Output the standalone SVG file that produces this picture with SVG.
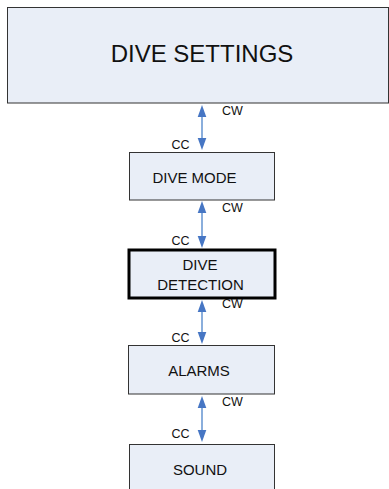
<svg xmlns="http://www.w3.org/2000/svg" width="389" height="489" viewBox="0 0 389 489">
<style>
.box{fill:#E9EEF7;stroke:#333;stroke-width:1}
.bold{fill:#E9EEF7;stroke:#000;stroke-width:3}
.t{font-family:"Liberation Sans",Arial,sans-serif;font-size:15px;fill:#111;text-anchor:middle}
.big{font-size:24px}
.l{font-family:"Liberation Sans",Arial,sans-serif;font-size:12.5px;fill:#111}
.c{stroke:#8AAEDC;stroke-width:2;fill:none}
.h{fill:#4676C4}
</style>
<rect width="389" height="489" fill="#fff"/>
<g id="dive-settings"><rect class="box" x="7.5" y="7.5" width="381" height="95.5"/><text class="t big" x="202" y="62">DIVE SETTINGS</text></g>
<g id="dive-mode"><rect class="box" x="129.5" y="152.5" width="145" height="47.5"/><text class="t" x="194.5" y="183">DIVE MODE</text></g>
<g id="dive-detection"><rect class="bold" x="129" y="250" width="146" height="48"/><text class="t" x="200" y="270">DIVE</text><text class="t" x="200.5" y="290">DETECTION</text></g>
<g id="alarms"><rect class="box" x="128.5" y="345.5" width="146" height="48.5"/><text class="t" x="199" y="376">ALARMS</text></g>
<g id="sound"><rect class="box" x="129.5" y="444.5" width="145" height="50"/><text class="t" x="200" y="475">SOUND</text></g>
<g id="connectors">
<line class="c" x1="202" y1="115" x2="202" y2="140"/>
<path class="h" d="M202 105 L206.3 117 L197.7 117 Z"/><path class="h" d="M202 150 L206.3 138 L197.7 138 Z"/>
<line class="c" x1="202" y1="211" x2="202" y2="238"/>
<path class="h" d="M202 201 L206.3 213 L197.7 213 Z"/><path class="h" d="M202 248 L206.3 236 L197.7 236 Z"/>
<line class="c" x1="202" y1="310" x2="202" y2="334"/>
<path class="h" d="M202 300 L206.3 312 L197.7 312 Z"/><path class="h" d="M202 344 L206.3 332 L197.7 332 Z"/>
<line class="c" x1="202" y1="406" x2="202" y2="432"/>
<path class="h" d="M202 396 L206.3 408 L197.7 408 Z"/><path class="h" d="M202 442 L206.3 430 L197.7 430 Z"/>
</g>
<g id="labels">
<text class="l" x="222" y="115">CW</text><text class="l" x="171.5" y="148.5">CC</text>
<text class="l" x="222" y="212">CW</text><text class="l" x="171.5" y="245">CC</text>
<text class="l" x="222" y="308">CW</text><text class="l" x="171.5" y="342">CC</text>
<text class="l" x="222" y="406">CW</text><text class="l" x="171.5" y="438">CC</text>
</g>
</svg>
